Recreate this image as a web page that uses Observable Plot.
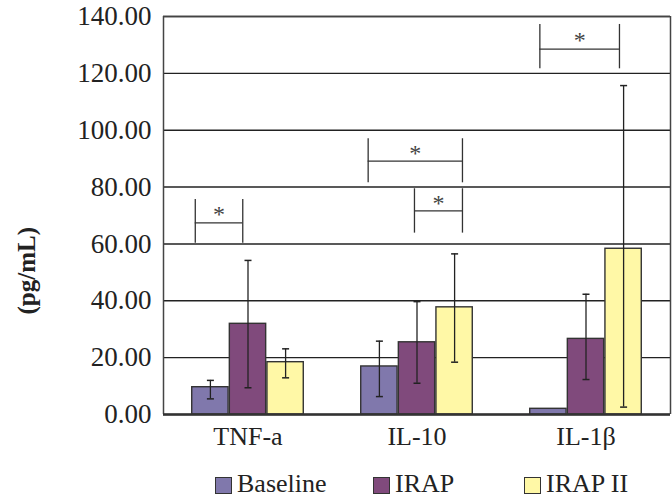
<!DOCTYPE html>
<html>
<head>
<meta charset="utf-8">
<script src="https://cdn.jsdelivr.net/npm/d3@7"></script>
<script src="https://cdn.jsdelivr.net/npm/@observablehq/plot@0.6"></script>
<style>
  html, body { margin: 0; padding: 0; background: #fff; }
  body { width: 672px; height: 500px; overflow: hidden; font-family: "Liberation Serif", serif; color: #222; }
  #chart svg text { font-family: "Liberation Serif", serif; font-variant: normal; }
  #legend { position: relative; width: 672px; height: 45px; }
  .item { position: absolute; top: 0; height: 45px; }
  .sw { position: absolute; top: 22px; left: 0; width: 17px; height: 17px; border: 1px solid #333; box-sizing: border-box; }
  .lab { position: absolute; top: 16px; left: 22px; font-size: 26px; line-height: 26px; white-space: nowrap; }
</style>
</head>
<body>
<div id="chart"></div>
<div id="legend"></div>
<script>
// ---- data ----
const categories = ["TNF-a", "IL-10", "IL-1β"];
const series = ["Baseline", "IRAP", "IRAP II"];
const colors = ["#8078ac", "#804a7c", "#fff8a6"];
const baselineValues = [9.6, 16.9, 2.0];
const irapValues = [31.9, 25.4, 26.6];
const irap2Values = [18.4, 37.7, 58.3];
// error bar ends [low, high]
const baselineErr = [[5.5, 12.0], [6.3, 25.8], null];
const irapErr = [[9.4, 54.2], [11.0, 39.7], [12.3, 42.3]];
const irap2Err = [[12.9, 23.1], [18.4, 56.5], [2.6, 115.7]];
const yTicks = [0, 20, 40, 60, 80, 100, 120, 140];
const yTickLabels = ["0.00", "20.00", "40.00", "60.00", "80.00", "100.00", "120.00", "140.00"];
// significance brackets (x in group units, y in pg/mL)
const bracketX1 = [0.188, 1.211, 1.485, 2.227];
const bracketX2 = [0.469, 1.769, 1.769, 2.698];
const bracketTop = [75.6, 97.0, 79.4, 137.2];
const bracketBottom = [60.2, 81.5, 63.8, 121.6];
const bracketBar = [67.4, 89.1, 71.6, 128.5];

// ---- build ----
const values = [baselineValues, irapValues, irap2Values];
const errs = [baselineErr, irapErr, irap2Err];
const step = 0.2225, half = 0.1075;
const rows = [];
categories.forEach((c, gi) => {
  series.forEach((s, si) => {
    const xc = gi + 0.5 + (si - 1) * step;
    const e = errs[si][gi];
    rows.push({cat: c, series: s, value: values[si][gi], xc, x1: xc - half, x2: xc + half,
               lo: e ? e[0] : null, hi: e ? e[1] : null});
  });
});
const errRows = rows.filter(d => d.lo != null);
const brackets = bracketX1.map((x1, i) => ({x1, x2: bracketX2[i], top: bracketTop[i], bottom: bracketBottom[i], bar: bracketBar[i],
  xm: (x1 + bracketX2[i]) / 2, ym: (bracketTop[i] + bracketBar[i]) / 2}));

const cap = {draw(ctx, size) { ctx.moveTo(-3.5, 0); ctx.lineTo(3.5, 0); }};
const FONT = "Liberation Serif";

const chart = Plot.plot({
  width: 672, height: 455,
  marginLeft: 163, marginRight: 2, marginTop: 16, marginBottom: 41,
  style: {fontFamily: FONT, fontSize: "26px", color: "#222", background: "white"},
  x: {type: "linear", domain: [0, 3], label: null},
  y: {domain: [0, 140], label: null},
  color: {domain: series, range: colors},
  marks: [
    Plot.gridY(yTicks, {stroke: "#222", strokeOpacity: 1, strokeWidth: 1.4}),
    Plot.rectY(rows, {x1: "x1", x2: "x2", y: "value", fill: "series", stroke: "#333", strokeWidth: 1.4}),
    Plot.ruleX(errRows, {x: "xc", y1: "lo", y2: "hi", stroke: "#222", strokeWidth: 1.3}),
    Plot.dot(errRows, {x: "xc", y: "lo", symbol: cap, stroke: "#222", fill: "none", strokeWidth: 1.5}),
    Plot.dot(errRows, {x: "xc", y: "hi", symbol: cap, stroke: "#222", fill: "none", strokeWidth: 1.5}),
    Plot.ruleX(brackets, {x: "x1", y1: "bottom", y2: "top", stroke: "#333", strokeWidth: 1.3}),
    Plot.ruleX(brackets, {x: "x2", y1: "bottom", y2: "top", stroke: "#333", strokeWidth: 1.3}),
    Plot.ruleY(brackets, {y: "bar", x1: "x1", x2: "x2", stroke: "#333", strokeWidth: 1.3}),
    Plot.text(brackets, {x: "xm", y: "ym", text: () => "*", fontSize: 24, dy: 3, fill: "#444", fontFamily: FONT}),
    Plot.ruleX([0, 3], {stroke: "#444", strokeWidth: 1.5}),
    Plot.ruleY([140], {stroke: "#444", strokeWidth: 1.5}),
    Plot.ruleY([0], {stroke: "#333", strokeWidth: 2.5}),
    Plot.axisY(yTicks, {tickSize: 0, tickPadding: 12, tickFormat: d => yTickLabels[yTicks.indexOf(d)], fontSize: 27, fontFamily: FONT, fontVariant: "normal"}),
    Plot.axisX([0.5, 1.5, 2.5], {tickSize: 0, tickPadding: 12, tickFormat: v => categories[Math.floor(v)], fontSize: 26, fontFamily: FONT}),
    Plot.text(["(pg/mL)"], {frameAnchor: "left", dx: -137, dy: 99, rotate: -90, fontWeight: "bold", fontSize: 25, fontFamily: FONT, fill: "#222"})
  ]
});
document.getElementById("chart").appendChild(chart);

// legend
const legendLeft = [215, 373, 524];
const legend = document.getElementById("legend");
series.forEach((s, i) => {
  const item = document.createElement("div");
  item.className = "item";
  item.style.left = legendLeft[i] + "px";
  const sw = document.createElement("div");
  sw.className = "sw";
  sw.style.background = colors[i];
  const lab = document.createElement("span");
  lab.className = "lab";
  lab.textContent = s;
  item.appendChild(sw);
  item.appendChild(lab);
  legend.appendChild(item);
});
</script>
</body>
</html>
